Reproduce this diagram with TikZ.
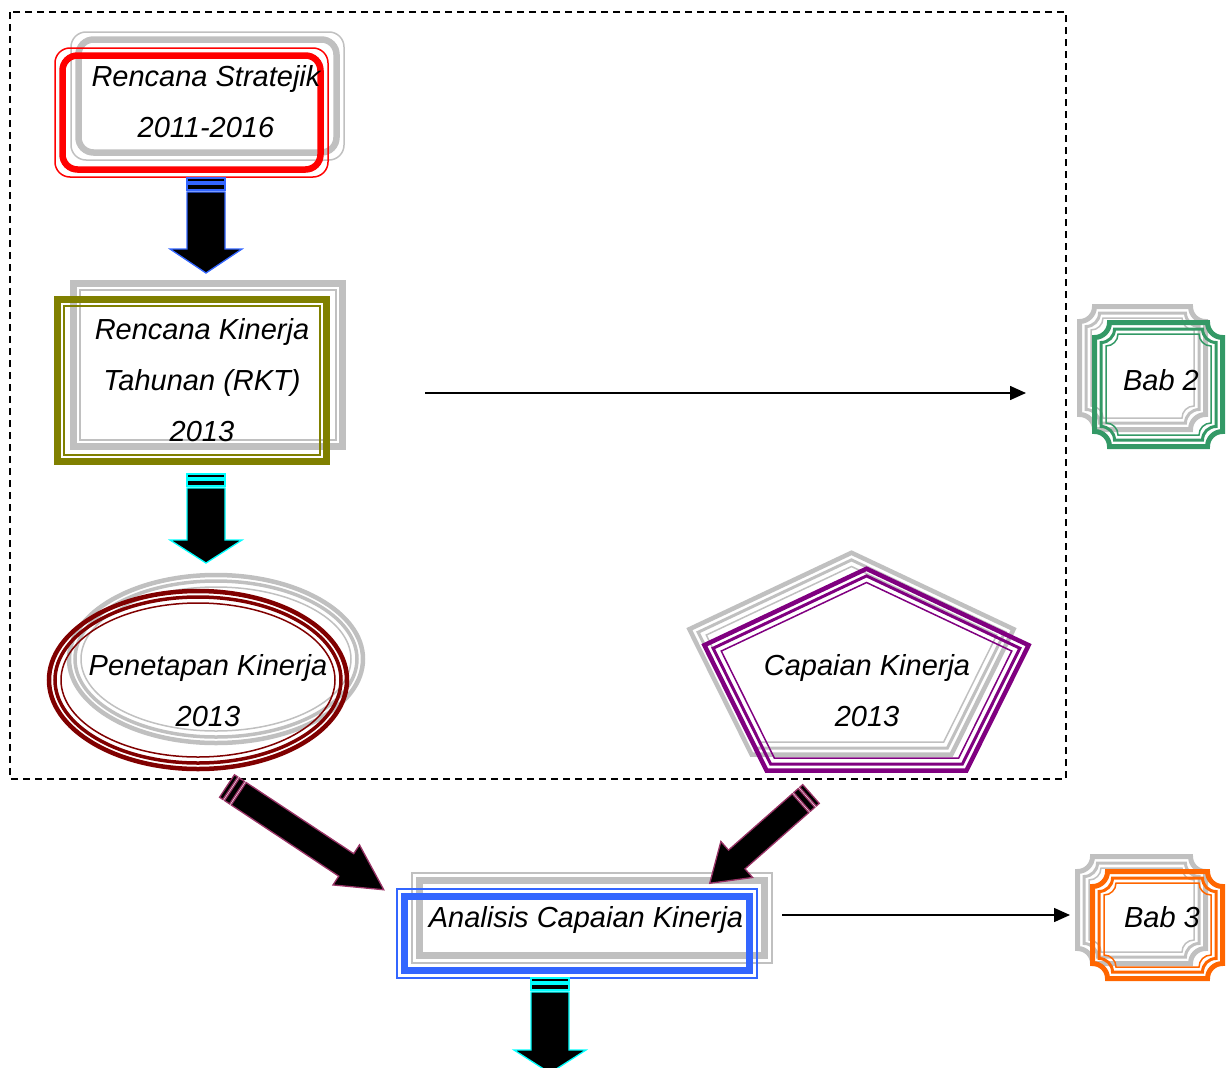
\documentclass[tikz,border=0pt]{standalone}
\usepackage{fontspec}
\setmainfont{Liberation Sans}
\usetikzlibrary{arrows.meta}
\definecolor{shadowgray}{HTML}{C0C0C0}
\definecolor{stratred}{HTML}{FF0000}
\definecolor{rktolive}{HTML}{808000}
\definecolor{tapmaroon}{HTML}{800000}
\definecolor{cappurple}{HTML}{800080}
\definecolor{akinblue}{HTML}{3366FF}
\definecolor{babgreen}{HTML}{339966}
\definecolor{baborange}{HTML}{FF6600}
\definecolor{plum}{HTML}{993366}
\definecolor{aqua}{HTML}{00FFFF}
\tikzset{lbl/.style={font=\fontsize{29}{51}\selectfont\itshape, align=center, inner sep=0pt},
	thinarrow/.style={line width=1.5pt, -{Triangle[length=16pt,width=14pt]}},
	dashframe/.style={dash pattern=on 7pt off 5pt, line width=1.2pt}}
\newcommand{\blockarrow}[5]{\draw[#5, line width=1.3pt, fill=black] (0,-#2/2) rectangle (4,#2/2);
					\draw[#5, line width=1.3pt, fill=black] (6,-#2/2) rectangle (12,#2/2);
					\draw[#5, line width=1.3pt, fill=black] (14,-#2/2) -- (#1-#4,-#2/2) -- (#1-#4,-#3/2) -- (#1,0) -- (#1-#4,#3/2) -- (#1-#4,#2/2) -- (14,#2/2) -- cycle;}
\newcommand{\thinthick}[5]{\draw[#5, line width=1.5pt] (#1,#2) rectangle (#3,#4);
					\draw[#5, line width=6.5pt] (#1+7.5,#2+7.5) rectangle (#3-7.5,#4-7.5);}
\newcommand{\thickthin}[5]{\draw[#5, line width=7pt] (#1+3.5,#2+3.5) rectangle (#3-3.5,#4-3.5);
					\draw[#5, line width=1.5pt] (#1+10,#2+10) rectangle (#3-10,#4-10);}
\newcommand{\triellipse}[5]{\draw[#5, line width=4.5pt] (#1,#2) ellipse[x radius=#3-2, y radius=#4-2];
					\draw[#5, line width=3.5pt] (#1,#2) ellipse[x radius=#3-8, y radius=#4-8];
					\draw[#5, line width=1.5pt] (#1,#2) ellipse[x radius=#3-14, y radius=#4-14];}
\newcommand{\pentaline}[4]{\draw[#4] (#1,#2-103.5+#3*1.1) -- (#1+165.5-#3*1.35,#2-25.5+#3*0.47) -- (#1+101.5-#3*0.62,#2+103.5-#3) -- (#1-101.5+#3*0.62,#2+103.5-#3) -- (#1-165.5+#3*1.35,#2-25.5+#3*0.47) -- cycle;}
\newcommand{\tripenta}[3]{\pentaline{#1}{#2}{2.5}{#3, line width=4.5pt}
					\pentaline{#1}{#2}{9}{#3, line width=3pt}
					\pentaline{#1}{#2}{15}{#3, line width=1.5pt}}
\newcommand{\plaqueline}[6]{\draw[#6] (#1+#5,#2) -- (#3-#5,#2) arc[start angle=180,end angle=90,radius=#5] -- (#3,#4-#5) arc[start angle=270,end angle=180,radius=#5] -- (#1+#5,#4) arc[start angle=0,end angle=-90,radius=#5] -- (#1,#2+#5) arc[start angle=90,end angle=0,radius=#5] -- cycle;}
\newcommand{\triplaque}[5]{\plaqueline{#1+2.5}{#2+2.5}{#3-2.5}{#4-2.5}{15}{#5, line width=5pt}
					\plaqueline{#1+9}{#2+9}{#3-9}{#4-9}{13.5}{#5, line width=3pt}
					\plaqueline{#1+14}{#2+14}{#3-14}{#4-14}{12}{#5, line width=1.5pt}}

\begin{document}
\begin{tikzpicture}[x=1pt, y=-1pt]
					\useasboundingbox (0,0) rectangle (1226,1068);
					\clip (0,0) rectangle (1226,1068);
					
					% frames, shadow first
					\thinthick{71}{32}{344}{160}{shadowgray, rounded corners=15pt}
					\thinthick{55}{48}{328}{177}{stratred, rounded corners=15pt}
					
					\thickthin{70}{280}{346}{450}{shadowgray}
					\thickthin{54}{296}{330}{465}{rktolive}
					
					\triellipse{216}{659}{149}{86}{shadowgray}
					\triellipse{198}{680}{151}{91}{tapmaroon}
					
					\tripenta{851.5}{653.5}{shadowgray}
					\tripenta{866.5}{669.5}{cappurple}
					
					\thinthick{412}{873}{772}{963}{shadowgray}
					\thinthick{397}{889}{757}{978}{akinblue}
					
					\triplaque{1077}{304}{1208}{432}{shadowgray}
					\triplaque{1092}{320}{1225}{449}{babgreen}
					
					\triplaque{1075}{854}{1208}{966}{shadowgray}
					\triplaque{1090}{869}{1225}{981}{baborange}
					
					\draw[dashframe] (10,12) rectangle (1066,779);
					
					\node[lbl] (strat) at (206,101.5) {Rencana Stratejik\\2011-2016};
					\node[lbl] (rkt) at (202,380) {Rencana Kinerja\\Tahunan (RKT)\\2013};
					\node[lbl] (tapkin) at (208,690.5) {Penetapan Kinerja\\2013};
					\node[lbl] (capkin) at (867,690.5) {Capaian Kinerja\\2013};
					\node[lbl] (akin) at (586,920) {Analisis Capaian Kinerja};
					\node[lbl] (bab2) at (1161,380) {Bab 2};
					\node[lbl] (bab3) at (1162,917) {Bab 3};
					
					% block arrows
					\begin{scope}[shift={(206,178)}, rotate=-90]
						\blockarrow{95}{38}{72}{24}{akinblue}
					\end{scope}
					\begin{scope}[shift={(206,474)}, rotate=-90]
						\blockarrow{89}{38}{72}{23}{aqua}
					\end{scope}
					\begin{scope}[shift={(550,978)}, rotate=-90]
						\blockarrow{95}{38}{72}{23}{aqua}
					\end{scope}
					\begin{scope}[shift={(227,786)}, rotate=-33.5]
						\blockarrow{188}{27}{48}{45}{plum}
					\end{scope}
					\begin{scope}[shift={(811,794)}, rotate=-138.6]
						\blockarrow{135}{25}{48}{36}{plum}
					\end{scope}
					
					\coordinate (rkt-out) at (425,393);
					\coordinate (bab2-in) at (1026,393);
					\coordinate (akin-out) at (782,915);
					\coordinate (bab3-in) at (1070,915);
					\draw[thinarrow] (rkt-out) -- (bab2-in);
					\draw[thinarrow] (akin-out) -- (bab3-in);
					
\end{tikzpicture}
\end{document}
